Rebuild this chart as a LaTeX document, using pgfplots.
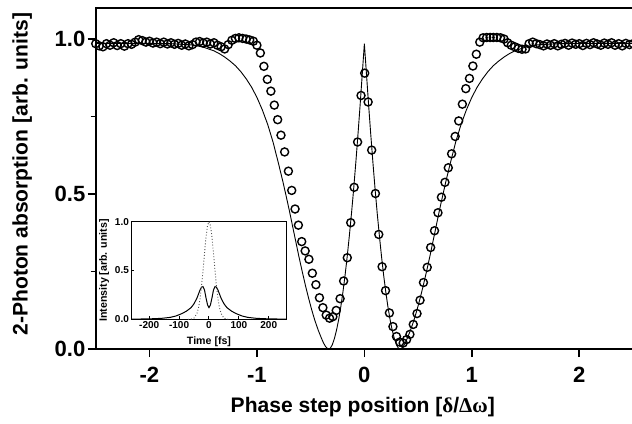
\documentclass[border=0pt]{standalone}
\usepackage{fontspec}
\setmainfont{Liberation Sans}
\newfontfamily\serifgreek{Liberation Serif}
\usepackage{pgfplots}
\pgfplotsset{compat=1.18}
\begin{document}
\begin{tikzpicture}
\begin{axis}[
  at={(0,0)}, anchor=south west,
  scale only axis, width=268pt, height=170.2pt,
  xmin=-2.5, xmax=2.5, ymin=0, ymax=1.1,
  axis line style={line width=1pt},
  xtick={-2,-1,0,1,2}, xticklabels={-2,-1,0,1,2},
  ytick={0,0.5,1}, yticklabels={0.0,0.5,1.0},
  minor ytick={0.25,0.75},
  tick align=outside, tick pos=left,
  major tick length=4pt, minor tick length=2.5pt,
  tick style={line width=0.8pt, black},
  tick label style={font=\bfseries\fontsize{11}{13}\selectfont},
  yticklabel style={inner sep=1pt},
  xticklabel style={yshift=-1.5pt},
  xlabel={Phase step position [{\serifgreek δ}/{\serifgreek Δω}]},
  ylabel={2-Photon absorption [arb. units]},
  label style={font=\bfseries\fontsize{10.5}{12}\selectfont},
  xlabel style={at={(axis description cs:0.497,-0.184)}, anchor=base},
  ylabel style={at={(axis description cs:-0.137,0.513)}, anchor=center},
  clip=false,
]
\addplot[black, line width=0.45pt] coordinates {
(-2.50,0.986) (-2.00,0.986) (-1.80,0.985) (-1.60,0.981) (-1.50,0.974) (-1.40,0.962)
(-1.35,0.953) (-1.30,0.942) (-1.25,0.929) (-1.20,0.914) (-1.15,0.895) (-1.10,0.872)
(-1.05,0.845) (-1.00,0.812) (-0.95,0.772) (-0.90,0.725) (-0.85,0.668) (-0.80,0.600)
(-0.76,0.543) (-0.73,0.497) (-0.70,0.450) (-0.67,0.400) (-0.64,0.350) (-0.61,0.300)
(-0.58,0.253) (-0.55,0.208) (-0.52,0.166) (-0.49,0.127) (-0.46,0.092) (-0.43,0.062)
(-0.40,0.036) (-0.38,0.020) (-0.36,0.008) (-0.34,0.001) (-0.33,0.000) (-0.32,0.002)
(-0.30,0.013) (-0.28,0.033) (-0.26,0.060) (-0.24,0.094) (-0.22,0.135) (-0.20,0.183)
(-0.18,0.237) (-0.16,0.298) (-0.14,0.365) (-0.12,0.437) (-0.10,0.515) (-0.08,0.600)
(-0.06,0.690) (-0.04,0.785) (-0.02,0.885) (0.00,0.985)
(0.02,0.885) (0.04,0.785) (0.06,0.690) (0.08,0.600) (0.10,0.515) (0.12,0.437)
(0.14,0.365) (0.16,0.298) (0.18,0.237) (0.20,0.183) (0.22,0.135) (0.24,0.094)
(0.26,0.060) (0.28,0.033) (0.30,0.013) (0.32,0.002) (0.33,0.000) (0.34,0.001)
(0.36,0.008) (0.38,0.020) (0.40,0.036) (0.43,0.062) (0.46,0.092) (0.49,0.127)
(0.52,0.166) (0.55,0.208) (0.58,0.253) (0.61,0.300) (0.64,0.350) (0.67,0.400)
(0.70,0.450) (0.73,0.497) (0.76,0.543) (0.80,0.600) (0.85,0.668) (0.90,0.725)
(0.95,0.772) (1.00,0.812) (1.05,0.845) (1.10,0.872) (1.15,0.895) (1.20,0.914)
(1.25,0.929) (1.30,0.942) (1.35,0.953) (1.40,0.962) (1.50,0.974) (1.60,0.981)
(1.80,0.985) (2.00,0.986) (2.50,0.986)
};
\addplot[only marks, mark=o, mark size=2pt, mark options={line width=0.7pt, black}] coordinates {
(-2.500,0.985) (-2.467,0.978) (-2.433,0.975) (-2.400,0.985) (-2.367,0.980) (-2.333,0.988)
(-2.300,0.979) (-2.267,0.985) (-2.233,0.977) (-2.200,0.985) (-2.167,0.983) (-2.133,0.990)
(-2.100,0.998) (-2.067,0.995) (-2.033,0.990) (-2.000,0.993) (-1.967,0.987) (-1.933,0.990)
(-1.900,0.985) (-1.867,0.990) (-1.833,0.984) (-1.800,0.988) (-1.767,0.983) (-1.733,0.986)
(-1.700,0.980) (-1.667,0.984) (-1.633,0.978) (-1.600,0.982) (-1.567,0.990) (-1.533,0.992)
(-1.500,0.987) (-1.467,0.990) (-1.433,0.984) (-1.400,0.988) (-1.367,0.980) (-1.333,0.975)
(-1.300,0.968) (-1.267,0.982) (-1.233,0.996) (-1.200,1.002) (-1.167,1.004) (-1.133,1.002)
(-1.100,1.000) (-1.067,0.997) (-1.033,0.993)
(-1.000,0.980) (-0.968,0.955) (-0.935,0.912) (-0.903,0.870) (-0.870,0.832) (-0.838,0.787)
(-0.807,0.740) (-0.776,0.690) (-0.742,0.636) (-0.707,0.574) (-0.676,0.512) (-0.645,0.452)
(-0.614,0.400) (-0.583,0.347) (-0.551,0.317) (-0.516,0.290) (-0.484,0.245) (-0.451,0.208)
(-0.418,0.166) (-0.386,0.134) (-0.355,0.110) (-0.324,0.100) (-0.293,0.105) (-0.262,0.125)
(-0.226,0.163) (-0.193,0.220) (-0.159,0.295) (-0.127,0.408) (-0.095,0.522) (-0.063,0.668)
(-0.031,0.818) (0.003,0.890) (0.035,0.797) (0.068,0.642) (0.103,0.502) (0.134,0.370)
(0.165,0.266) (0.197,0.189) (0.233,0.117) (0.266,0.073) (0.299,0.041) (0.330,0.023)
(0.361,0.020) (0.393,0.031) (0.424,0.048) (0.455,0.080) (0.490,0.115) (0.518,0.158)
(0.550,0.215) (0.585,0.264) (0.617,0.328) (0.653,0.382) (0.685,0.440) (0.717,0.490)
(0.750,0.538) (0.781,0.585) (0.812,0.630) (0.845,0.686) (0.878,0.736) (0.912,0.790)
(0.944,0.840) (0.978,0.873) (1.010,0.913) (1.042,0.951) (1.074,0.990)
(1.105,1.004) (1.138,1.005) (1.170,1.005) (1.200,1.005) (1.233,1.005) (1.267,1.004)
(1.300,1.000) (1.333,0.988) (1.367,0.980) (1.400,0.975) (1.433,0.970) (1.467,0.967)
(1.500,0.968) (1.533,0.985) (1.567,0.990) (1.600,0.985) (1.633,0.982) (1.667,0.978)
(1.700,0.984) (1.733,0.980) (1.767,0.985) (1.800,0.978) (1.833,0.983) (1.867,0.986)
(1.900,0.980) (1.933,0.987) (1.967,0.983) (2.000,0.985) (2.033,0.979) (2.067,0.986)
(2.100,0.982) (2.133,0.988) (2.167,0.984) (2.200,0.980) (2.233,0.987) (2.267,0.983)
(2.300,0.988) (2.333,0.980) (2.367,0.985) (2.400,0.978) (2.433,0.986) (2.467,0.982)
(2.500,0.985)
};
\end{axis}
\begin{axis}[
  at={(17.75pt,14.9pt)}, anchor=south west,
  scale only axis, width=77.5pt, height=48.75pt,
  xmin=-260, xmax=260, ymin=0, ymax=1,
  axis background/.style={fill=white},
  axis line style={line width=0.6pt},
  xtick={-200,-100,0,100,200}, xticklabels={-200,-100,0,100,200},
  ytick={0,0.5,1}, yticklabels={0.0,0.5,1.0},
  tick align=inside, tick pos=left,
  major tick length=1.5pt,
  tick style={line width=0.5pt, black},
  tick label style={font=\bfseries\fontsize{5}{6}\selectfont, inner sep=1pt},
  xlabel={Time [fs]},
  ylabel={Intensity [arb. units]},
  label style={font=\bfseries\fontsize{5.3}{6}\selectfont},
  xlabel style={at={(axis description cs:0.5,-0.26)}, anchor=base},
  ylabel style={at={(axis description cs:-0.175,0.5)}, anchor=center},
]
\addplot[black, line width=0.5pt] coordinates {
(-260,0.002) (-200,0.005) (-160,0.010) (-130,0.020) (-110,0.035) (-90,0.060)
(-75,0.085) (-60,0.120) (-50,0.160) (-40,0.220) (-30,0.300) (-25,0.330)
(-20,0.335) (-15,0.300) (-10,0.220) (-5,0.150) (0,0.120) (5,0.150) (10,0.220)
(15,0.300) (20,0.335) (25,0.330) (30,0.300) (40,0.220) (50,0.160) (60,0.120)
(75,0.085) (90,0.060) (110,0.035) (130,0.020) (160,0.010) (200,0.005) (260,0.002)
};
\addplot[black!70, line width=0.45pt, densely dotted] coordinates {
(-70,0.000) (-60,0.002) (-50,0.013) (-40,0.063) (-35,0.120) (-30,0.211) (-25,0.340)
(-20,0.501) (-15,0.678) (-10,0.842) (-5,0.958) (0,1.000) (5,0.958) (10,0.842)
(15,0.678) (20,0.501) (25,0.340) (30,0.211) (35,0.120) (40,0.063) (50,0.013)
(60,0.002) (70,0.000)
};
\end{axis}
\pgfresetboundingbox
\path[use as bounding box] (-47.75pt,-36.85pt) rectangle (267.5pt,174.2pt);
\end{tikzpicture}
\end{document}
